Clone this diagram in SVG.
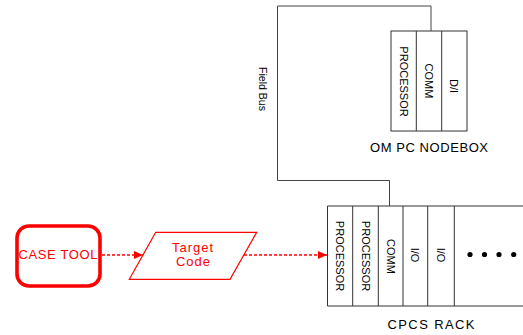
<svg xmlns="http://www.w3.org/2000/svg" width="523" height="335" viewBox="0 0 523 335">
<defs>
<style>
.box{fill:#fff;stroke:#333;stroke-width:1}
.div{stroke:#333;stroke-width:1}
.vt{font-family:"Liberation Sans",Arial,sans-serif;font-size:11px;fill:#000;text-anchor:middle}
.lbl{font-family:"Liberation Sans",Arial,sans-serif;font-size:13px;fill:#000;text-anchor:middle}
.red{font-family:"Liberation Sans",Arial,sans-serif;font-size:13px;fill:#ff0000;text-anchor:middle}
.bus{fill:none;stroke:#444;stroke-width:1}
.dash{fill:none;stroke:#ff0000;stroke-width:1.3;stroke-dasharray:3,2}
</style>
<marker id="ah" markerWidth="10" markerHeight="8" refX="9" refY="4" orient="auto" markerUnits="userSpaceOnUse">
<path d="M0,0 L9,4 L0,8 Z" fill="#ff0000"/>
</marker>
</defs>
<rect width="523" height="335" fill="#fff"/>
<g id="connectors">
<polyline class="bus" points="431,31 431,6 277.5,6 277.5,180.5 389.5,180.5 389.5,206"/>
<text class="vt" transform="translate(262.5,89) rotate(90)" y="3.5" style="font-size:10.5px">Field Bus</text>
<line class="dash" x1="102" y1="255" x2="143" y2="255" marker-end="url(#ah)"/>
<line class="dash" x1="244" y1="255" x2="327" y2="255" marker-end="url(#ah)"/>
</g>
<g id="om-pc-nodebox">
<rect class="box" x="391" y="31" width="76" height="100"/>
<line class="div" x1="416.3" y1="31" x2="416.3" y2="131"/>
<line class="div" x1="441.7" y1="31" x2="441.7" y2="131"/>
<text class="vt" transform="translate(403.6,81.5) rotate(90)" y="4">PROCESSOR</text>
<text class="vt" transform="translate(429,81) rotate(90)" y="4">COMM</text>
<text class="vt" transform="translate(454.4,86) rotate(90)" y="4">D/I</text>
<text class="lbl" x="429" y="151.5" textLength="118" lengthAdjust="spacing">OM PC NODEBOX</text>
</g>
<g id="cpcs-rack">
<path class="box" d="M530,206 L327.5,206 L327.5,306 L530,306"/>
<line class="div" x1="352.7" y1="206" x2="352.7" y2="306"/>
<line class="div" x1="378.3" y1="206" x2="378.3" y2="306"/>
<line class="div" x1="403" y1="206" x2="403" y2="306"/>
<line class="div" x1="427.7" y1="206" x2="427.7" y2="306"/>
<line class="div" x1="454.3" y1="206" x2="454.3" y2="306"/>
<text class="vt" transform="translate(340,256) rotate(90)" y="4">PROCESSOR</text>
<text class="vt" transform="translate(365.5,256) rotate(90)" y="4">PROCESSOR</text>
<text class="vt" transform="translate(390.6,256.5) rotate(90)" y="4">COMM</text>
<text class="vt" transform="translate(415.3,255) rotate(90)" y="4">I/O</text>
<text class="vt" transform="translate(441,255) rotate(90)" y="4">I/O</text>
<circle cx="470" cy="254.5" r="2.6" fill="#000"/>
<circle cx="484.5" cy="254.5" r="2.6" fill="#000"/>
<circle cx="499" cy="254.5" r="2.6" fill="#000"/>
<circle cx="513.7" cy="254.5" r="2.6" fill="#000"/>
<text class="lbl" x="431" y="328.5" textLength="87" lengthAdjust="spacing">CPCS RACK</text>
</g>
<g id="case-tool">
<rect x="17" y="226" width="83" height="60" rx="12" ry="12" fill="#fff" stroke="#ff0000" stroke-width="3.6"/>
<text class="red" x="58" y="258.5" textLength="79" lengthAdjust="spacing">CASE TOOL</text>
</g>
<g id="target-code">
<polygon points="155.7,232.3 256.7,232.3 230,279.3 129.3,279.3" fill="#fff" stroke="#ff0000" stroke-width="1.2"/>
<text class="red" x="192.5" y="251.7" textLength="41" lengthAdjust="spacing">Target</text>
<text class="red" x="193" y="265.7" textLength="34" lengthAdjust="spacing">Code</text>
</g>
</svg>
